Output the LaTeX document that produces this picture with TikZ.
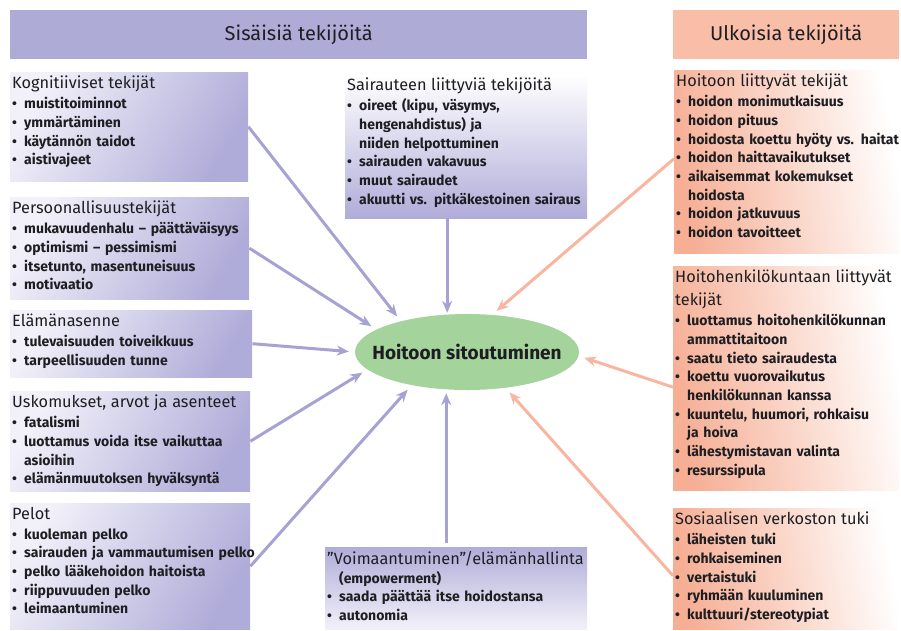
\documentclass[tikz,border=0pt]{standalone}
\usepackage{fontspec}
\setmainfont{Fira Sans}
\usepackage{tikz}
\usetikzlibrary{arrows.meta,shapes.geometric}
\definecolor{lavhead}{RGB}{175,171,215}
\definecolor{lavdeep}{RGB}{176,172,217}
\definecolor{lavpale}{RGB}{242,241,249}
\definecolor{lavarrow}{RGB}{166,162,212}
\definecolor{salhead}{RGB}{249,190,167}
\definecolor{salbox}{RGB}{246,174,148}
\definecolor{salarrow}{RGB}{248,182,160}
\definecolor{ovalgreen}{RGB}{164,211,156}
\definecolor{ink}{RGB}{30,30,34}
\newcommand{\kohta}{\makebox[12pt][l]{\textbullet}}
\newcommand{\jatko}{\hspace*{12pt}}
\newcommand{\otsikko}[1]{{\fontsize{16.3}{23}\selectfont\mdseries #1\par}\vspace{1pt}}

\begin{document}
\begin{tikzpicture}[
    x=1pt, y=-1pt,
    >={Stealth[length=12pt,width=10pt]},
    header/.style={anchor=north west, inner sep=0pt, text=ink, font=\fontsize{20}{24}\selectfont},
    lavbox/.style={anchor=north west, inner sep=0pt, left color=lavpale, right color=lavdeep, shading angle=60},
    salbox/.style={anchor=north west, inner sep=0pt, left color=salbox, right color=white, shading angle=100},
    boxtext/.style={anchor=north west, inner xsep=2pt, inner ysep=4pt, align=left, text=ink,
        text width=250pt, font=\fontsize{14}{18.7}\selectfont\bfseries},
    lavarr/.style={->, line width=3pt, lavarrow, shorten >=6pt},
    salarr/.style={->, line width=3pt, salarrow, shorten >=6pt},
]
\useasboundingbox (0,0) rectangle (901,630);

% === headers ===
\node[header, fill=lavhead, minimum width=577pt, minimum height=49pt] (sisa) at (10,10) {Sisäisiä tekijöitä};
\node[header, fill=salhead, minimum width=226pt, minimum height=49pt] (ulko) at (673,10) {Ulkoisia tekijöitä};

% === centre ===
\node[ellipse, fill=ovalgreen, minimum width=224pt, minimum height=76pt, inner sep=0pt] (oval) at (467,352) {};
\node[text=ink, font=\fontsize{19}{22}\selectfont\bfseries] (ovaltxt) at (oval.center) {Hoitoon sitoutuminen};

% === left column ===
\node[lavbox, minimum width=238pt, minimum height=109pt] (kog) at (10,72) {};
\node[boxtext] (kogtxt) at (kog.north west) {%
\otsikko{Kognitiiviset tekijät}
\kohta muistitoiminnot\\
\kohta ymmärtäminen\\
\kohta käytännön taidot\\
\kohta aistivajeet};

\node[lavbox, minimum width=239pt, minimum height=102pt] (pers) at (10,197) {};
\node[boxtext] (perstxt) at (pers.north west) {%
\otsikko{Persoonallisuustekijät}
\kohta mukavuudenhalu -- päättäväisyys\\
\kohta optimismi -- pessimismi\\
\kohta itsetunto, masentuneisuus\\
\kohta motivaatio};

\node[lavbox, minimum width=242pt, minimum height=67pt] (ela) at (10,310) {};
\node[boxtext] (elatxt) at (ela.north west) {%
\otsikko{Elämänasenne}
\kohta tulevaisuuden toiveikkuus\\
\kohta tarpeellisuuden tunne};

\node[lavbox, minimum width=240pt, minimum height=100pt] (usko) at (10,391) {};
\node[boxtext] (uskotxt) at (usko.north west) {%
\otsikko{Uskomukset, arvot ja asenteet}
\kohta fatalismi\\
\kohta luottamus voida itse vaikuttaa\\
\jatko asioihin\\
\kohta elämänmuutoksen hyväksyntä};

\node[lavbox, minimum width=240pt, minimum height=126pt] (pelot) at (10,503) {};
\node[boxtext] (pelottxt) at (pelot.north west) {%
\otsikko{Pelot}
\kohta kuoleman pelko\\
\kohta sairauden ja vammautumisen pelko\\
\kohta pelko lääkehoidon haitoista\\
\kohta riippuvuuden pelko\\
\kohta leimaantuminen};

% === middle column ===
\node[anchor=north west, inner sep=0pt, top color=white, bottom color=lavdeep,
    minimum width=242pt, minimum height=144pt] (sair) at (345,74) {};
\node[boxtext] (sairtxt) at (sair.north west) {%
\otsikko{Sairauteen liittyviä tekijöitä}
\kohta oireet (kipu, väsymys,\\
\jatko hengenahdistus) ja\\
\jatko niiden helpottuminen\\
\kohta sairauden vakavuus\\
\kohta muut sairaudet\\
\kohta akuutti vs. pitkäkestoinen sairaus};

\node[anchor=north west, inner sep=0pt, top color=lavdeep, bottom color=lavpale,
    minimum width=262pt, minimum height=82pt] (voim) at (325,547) {};
\node[boxtext, text width=262pt] (voimtxt) at (voim.north west) {%
{\fontsize{16.3}{18}\selectfont\mdseries "Voimaantuminen"/elämänhallinta\par}
\jatko(empowerment)\\
\kohta saada päättää itse hoidostansa\\
\kohta autonomia};

% === right column ===
\node[salbox, minimum width=225pt, minimum height=183pt] (hoid) at (674,70) {};
\node[boxtext] (hoidtxt) at (hoid.north west) {%
\otsikko{Hoitoon liittyvät tekijät}
\kohta hoidon monimutkaisuus\\
\kohta hoidon pituus\\
\kohta hoidosta koettu hyöty vs. haitat\\
\kohta hoidon haittavaikutukset\\
\kohta aikaisemmat kokemukset\\
\jatko hoidosta\\
\kohta hoidon jatkuvuus\\
\kohta hoidon tavoitteet};

\node[salbox, minimum width=226pt, minimum height=224pt] (henk) at (673,266) {};
\node[boxtext] (henktxt) at (henk.north west) {%
\otsikko{Hoitohenkilökuntaan liittyvät\\tekijät}
\kohta luottamus hoitohenkilökunnan\\
\jatko ammattitaitoon\\
\kohta saatu tieto sairaudesta\\
\kohta koettu vuorovaikutus\\
\jatko henkilökunnan kanssa\\
\kohta kuuntelu, huumori, rohkaisu\\
\jatko ja hoiva\\
\kohta lähestymistavan valinta\\
\kohta resurssipula};

\node[salbox, minimum width=226pt, minimum height=121pt] (sos) at (673,508) {};
\node[boxtext] (sostxt) at (sos.north west) {%
\otsikko{Sosiaalisen verkoston tuki}
\kohta läheisten tuki\\
\kohta rohkaiseminen\\
\kohta vertaistuki\\
\kohta ryhmään kuuluminen\\
\kohta kulttuuri/stereotypiat};

% === arrows ===
\draw[lavarr] (kog.east) -- (oval.155);
\draw[lavarr] (pers.east) -- (oval.166);
\draw[lavarr] (ela.east) -- (oval.180);
\draw[lavarr] (usko.east) -- (oval.190);
\draw[lavarr] (pelot.east) -- (oval.211);
\coordinate (sairfoot) at ([xshift=-19pt]sair.south);
\draw[lavarr, shorten >=1pt] (sairfoot) -- (sairfoot |- oval.north);
\coordinate (voimtop) at ([xshift=-10pt, yshift=4pt]voim.north);
\draw[lavarr, shorten >=3pt] (voimtop) -- (voimtop |- oval.south);
\draw[salarr] ([yshift=3pt]hoid.west) -- (oval.56);
\draw[salarr] ([yshift=-9pt]henk.west) -- (oval.358);
\draw[salarr] ([yshift=-7pt]sos.west) -- (oval.317);

\end{tikzpicture}
\end{document}
